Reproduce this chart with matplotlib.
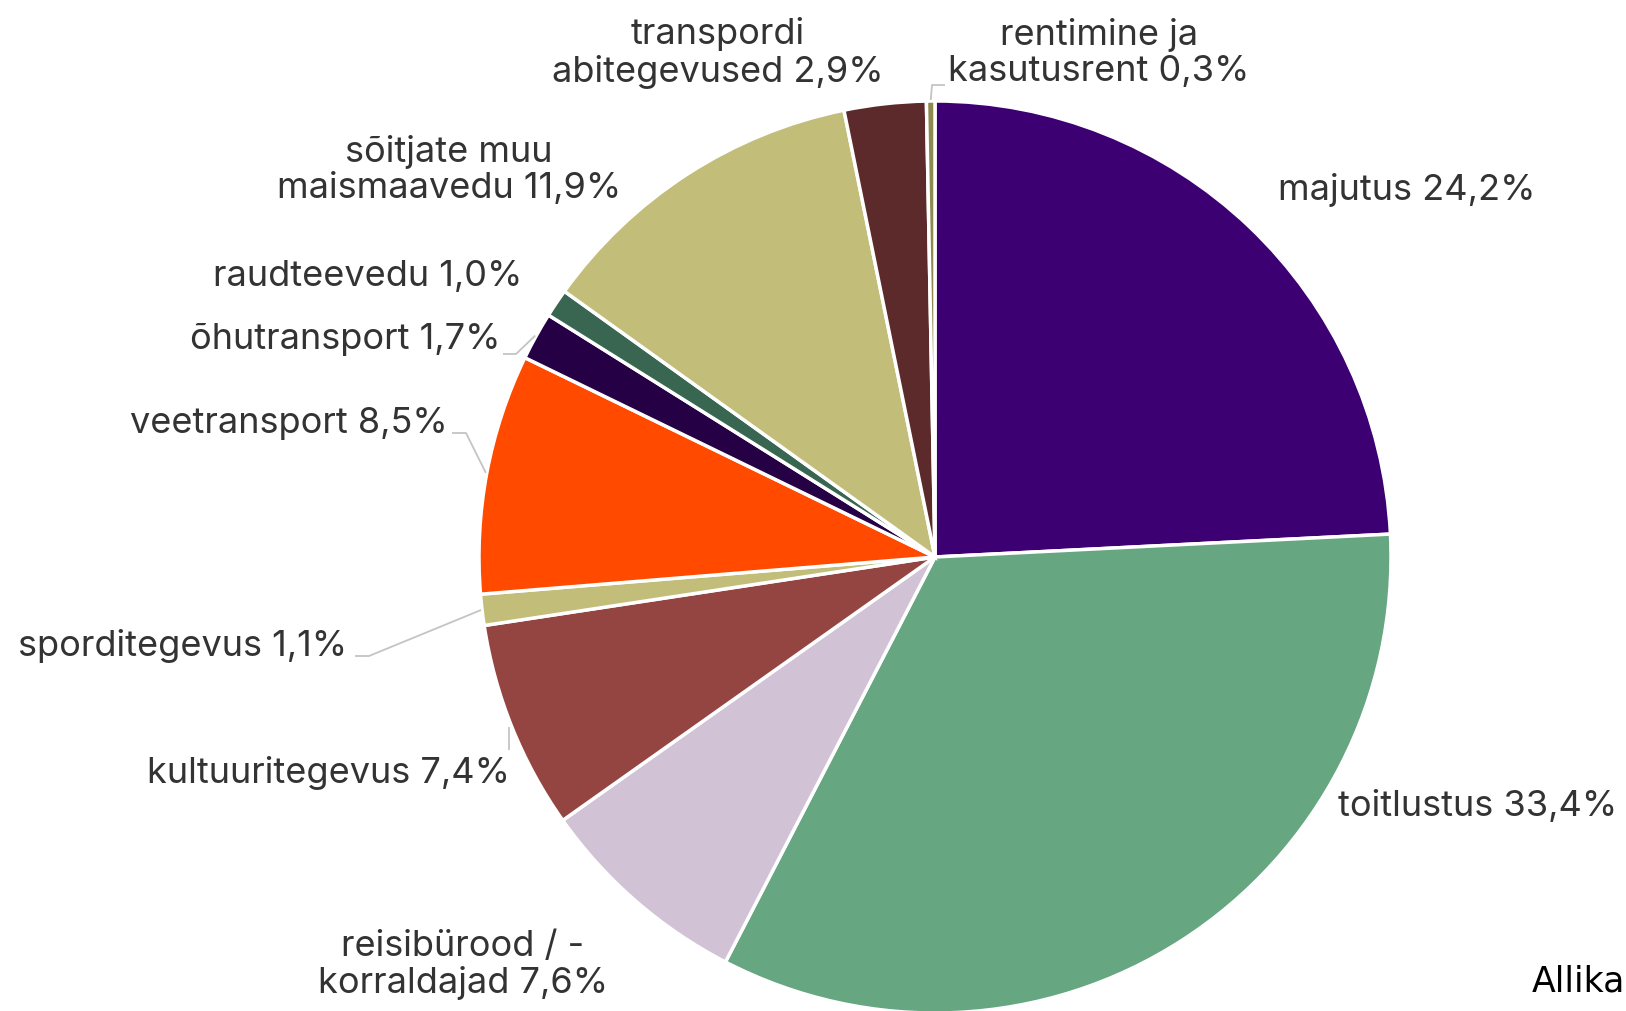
import numpy as np
import matplotlib
matplotlib.use('Agg')
import matplotlib.pyplot as plt

# data
categories = ['majutus', 'toitlustus', 'reisibürood / -\nkorraldajad', 'kultuuritegevus',
              'sporditegevus', 'veetransport', 'õhutransport', 'raudteevedu',
              'sõitjate muu\nmaismaavedu', 'transpordi\nabitegevused', 'rentimine ja\nkasutusrent']
shares = [24.2, 33.4, 7.6, 7.4, 1.1, 8.5, 1.7, 1.0, 11.9, 2.9, 0.3]
colors = ['#3d0073', '#66a680', '#d2c2d5', '#944542', '#c2be7a', '#ff4a00',
          '#260045', '#386650', '#c2be7a', '#5c2a2a', '#8c8a4e']

W, H = 1626, 1011
CX, CY, R = 935, 557, 456

# label layout (pixel coords, y down): x, y, ha
label_pos = [
    (1278, 190, 'left'),
    (1338, 806, 'left'),
    (463, 965, 'center'),
    (510, 773, 'right'),
    (347, 646, 'right'),
    (448, 423, 'right'),
    (500, 340, 'right'),
    (522, 276, 'right'),
    (449, 170, 'center'),
    (718, 53, 'center'),
    (1099, 53, 'center'),
]
# connector polylines (label side points), rim point appended when to_rim
connectors = {
    3: ([(509, 750), (509, 727)], False),
    4: ([(355, 656), (369, 656)], True),
    5: ([(452, 433), (466, 433)], True),
    6: ([(503, 354), (516, 354)], True),
    10: ([(945, 85), (932, 85)], True),
}


def fmt(v):
    return f'{v:.1f}'.replace('.', ',') + '%'


fig = plt.figure(figsize=(W / 100, H / 100), dpi=100)
ax = fig.add_axes([0, 0, 1, 1])

ax.pie(shares, colors=colors, startangle=90, counterclock=False,
       center=(CX, H - CY), radius=R, frame=True,
       wedgeprops=dict(edgecolor='white', linewidth=2.5))
ax.set_xlim(0, W)
ax.set_ylim(0, H)
ax.set_aspect('equal')
ax.axis('off')

cum = np.cumsum([0] + shares[:-1])
for i, (cat, v) in enumerate(zip(categories, shares)):
    x, y, ha = label_pos[i]
    ax.text(x, H - y, f'{cat} {fmt(v)}', ha=ha, va='center', fontsize=26,
            family='Inter', color='#333333', linespacing=1.12)
    if i in connectors:
        pts, to_rim = connectors[i]
        xs = [p[0] for p in pts]
        ys = [H - p[1] for p in pts]
        if to_rim:
            ang = np.deg2rad(90 - 360 * (cum[i] + v / 2) / 100)
            xs.append(CX + (R + 1) * np.cos(ang))
            ys.append((H - CY) + (R + 1) * np.sin(ang))
        ax.plot(xs, ys, color='#c4c4c4', lw=1.3, solid_capstyle='butt')

ax.text(1532, H - 982, 'Allika', ha='left', va='center', fontsize=25,
        family='DejaVu Sans', color='black')

fig.savefig('out.png', dpi=100)
